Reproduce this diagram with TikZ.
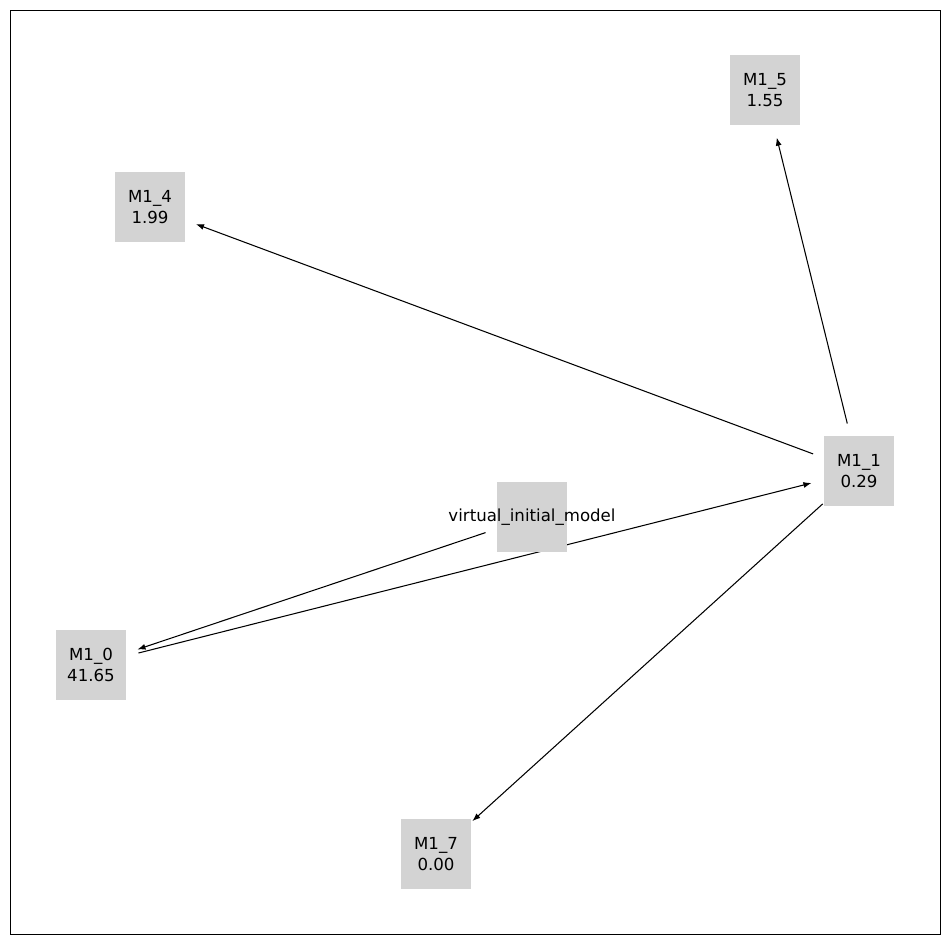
\documentclass[tikz,border=0pt]{standalone}
\usepackage{fontspec}
\setmainfont{DejaVu Sans}
\usetikzlibrary{arrows.meta,backgrounds}
\begin{document}
\begin{tikzpicture}[x=0.02cm, y=-0.02cm,
model/.style={fill={rgb,255:red,211;green,211;blue,211}, minimum width=1.4cm, minimum height=1.4cm, inner sep=0pt, align=center, font=\fontsize{9.45}{11.9}\selectfont},
edge/.style={-{Latex[length=4.6pt,width=3.4pt]}, line width=0.6pt, shorten <=0.98cm, shorten >=0.98cm}
]
\useasboundingbox (0,0) rectangle (950,944);
\draw[line width=0.55pt] (10,10) rectangle (940,934);
\node[model] (m5) at (765,90) {M1\_5\\1.55};
\node[model] (m4) at (150,207) {M1\_4\\1.99};
\node[model] (m1) at (859,471) {M1\_1\\0.29};
\node[model] (virt) at (532,517) {\makebox[0pt]{virtual\_initial\_model}};
\node[model] (m0) at (91,665) {M1\_0\\41.65};
\node[model] (m7) at (436,854) {M1\_7\\0.00};
\begin{scope}[on background layer]
\draw[edge] (m1.center) -- (m5.center);
\draw[edge] (m1.center) -- (m4.center);
\draw[edge] (m1.center) -- (m7.center);
\draw[edge] (virt.center) -- (m0.center);
\draw[edge] (m0.center) -- (m1.center);
\end{scope}
\end{tikzpicture}
\end{document}
